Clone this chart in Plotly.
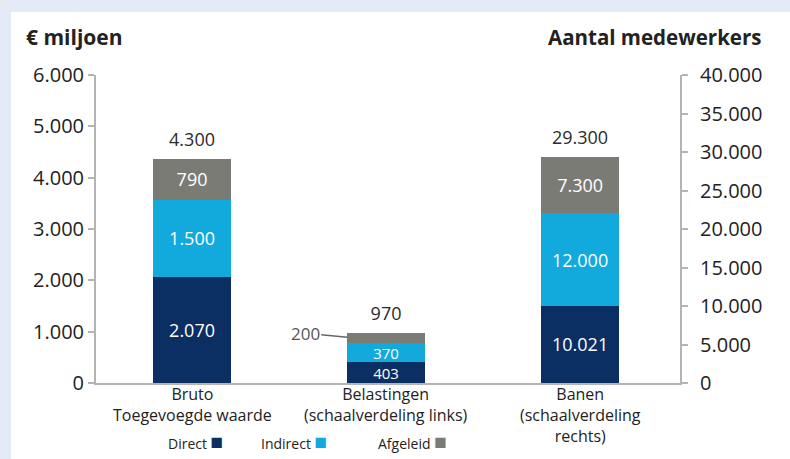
import plotly.graph_objects as go

# ---- data ----
categories = ["Bruto<br>Toegevoegde waarde",
              "Belastingen<br>(schaalverdeling links)",
              "Banen<br>(schaalverdeling<br>rechts)"]
series_names = ["Direct", "Indirect", "Afgeleid"]
direct = [2070, 403, 10021]
indirect = [1500, 370, 12000]
afgeleid = [790, 200, 7300]
totals_label = [4300, 970, 29300]
left_ticks = [0, 1000, 2000, 3000, 4000, 5000, 6000]
right_ticks = [0, 5000, 10000, 15000, 20000, 25000, 30000, 35000, 40000]

colors = {"Direct": "#0b2f63", "Indirect": "#12a9dc", "Afgeleid": "#7b7b76"}


def fmt(v):
    return f"{v:,}".replace(",", ".")


FONT = "Open Sans"
x_pos = list(range(len(categories)))
values = {"Direct": direct, "Indirect": indirect, "Afgeleid": afgeleid}
texts = {
    "Direct": [fmt(v) for v in direct],
    "Indirect": [fmt(v) for v in indirect],
    "Afgeleid": [fmt(afgeleid[0]), "", fmt(afgeleid[2])],
}
inside_sizes = [18, 15, 18]

fig = go.Figure()
for name in series_names:
    vals = values[name]
    common = dict(
        marker=dict(color=colors[name], line=dict(width=0)),
        width=0.4,
        textposition="inside",
        insidetextanchor="middle",
        textangle=0,
        constraintext="none",
        showlegend=False,
        hoverinfo="skip",
        name=name,
    )
    fig.add_trace(go.Bar(x=x_pos[:2], y=vals[:2], text=texts[name][:2], yaxis="y",
                         textfont=dict(color="white", size=inside_sizes[:2], family=FONT),
                         **common))
    fig.add_trace(go.Bar(x=x_pos[2:], y=vals[2:], text=texts[name][2:], yaxis="y2",
                         textfont=dict(color="white", size=inside_sizes[2:], family=FONT),
                         **common))

stack_tops = [d + i + a for d, i, a in zip(direct, indirect, afgeleid)]
tot_common = dict(mode="markers+text", textposition="top center",
                  marker=dict(size=12, opacity=0),
                  textfont=dict(size=18, color="#2b2b2b", family=FONT),
                  showlegend=False, hoverinfo="skip")
fig.add_trace(go.Scatter(x=x_pos[:2], y=stack_tops[:2],
                         text=[fmt(v) for v in totals_label[:2]], yaxis="y", **tot_common))
fig.add_trace(go.Scatter(x=x_pos[2:], y=stack_tops[2:],
                         text=[fmt(v) for v in totals_label[2:]], yaxis="y2", **tot_common))

# callout for the small Afgeleid segment of Belastingen
fig.add_annotation(x=x_pos[1] - 0.2, y=direct[1] + indirect[1] + afgeleid[1] * 0.6,
                   xref="x", yref="y", text=fmt(afgeleid[1]),
                   showarrow=True, arrowhead=0, arrowwidth=1.5, arrowcolor="#666",
                   ax=-42, ay=-4, font=dict(size=17, color="#555", family=FONT))

# category labels below the axis
for xi, cat in zip(x_pos, categories):
    fig.add_annotation(x=xi, y=0, xref="x", yref="paper", text=cat,
                       showarrow=False, xanchor="center", yanchor="top",
                       yshift=2, align="center",
                       font=dict(size=16, color="#222", family=FONT))

# axis titles
fig.add_annotation(x=-0.124, y=1.123, xref="paper", yref="paper", text="<b>€ miljoen</b>",
                   showarrow=False, xanchor="left", yanchor="middle",
                   font=dict(size=21, color="#222", family=FONT))
fig.add_annotation(x=1.142, y=1.123, xref="paper", yref="paper",
                   text="<b>Aantal medewerkers</b>",
                   showarrow=False, xanchor="right", yanchor="middle",
                   font=dict(size=20.5, color="#222", family=FONT))

# legend (text followed by coloured square)
legend_x = [0.120, 0.279, 0.4795]
for name, lx in zip(series_names, legend_x):
    fig.add_annotation(x=lx, y=-0.188, xref="paper", yref="paper",
                       text=f"{name} <span style='color:{colors[name]};font-size:21px'>■</span>",
                       showarrow=False, xanchor="left", yanchor="middle",
                       font=dict(size=14, color="#222", family=FONT))

# white panel on light-blue background
fig.add_shape(type="rect", xref="paper", yref="paper", x0=-0.1455, x1=1.5,
              y0=-0.5, y1=1.2045, fillcolor="white", line=dict(width=0), layer="below")

axis_col = "#b4b4b4"
fig.update_layout(
    width=790, height=459,
    margin=dict(l=96, r=110, t=75, b=76),
    paper_bgcolor="#e4ebf6",
    plot_bgcolor="white",
    barmode="stack",
    separators=",.",
    font=dict(family=FONT, color="#222"),
    xaxis=dict(range=[-0.495, 2.515], tickvals=x_pos, showticklabels=False,
               showline=True, linecolor=axis_col, linewidth=2, ticks="",
               showgrid=False, zeroline=False),
    yaxis=dict(range=[0, 6000], tickvals=left_ticks, tickformat=",d",
               showline=True, linecolor=axis_col, linewidth=2,
               ticks="outside", ticklen=6, tickcolor=axis_col, tickwidth=2,
               showgrid=False, zeroline=False,
               tickfont=dict(size=20, color="#222", family=FONT)),
    yaxis2=dict(range=[0, 40000], tickvals=right_ticks, tickformat=",d",
                overlaying="y", side="right",
                showline=True, linecolor=axis_col, linewidth=2,
                ticks="outside", ticklen=6, tickcolor=axis_col, tickwidth=2,
                ticklabelstandoff=8,
                showgrid=False, zeroline=False,
                tickfont=dict(size=20, color="#222", family=FONT)),
)

fig.write_html("out.html", config={"displayModeBar": False},
               post_script="document.body.style.margin='0';")
